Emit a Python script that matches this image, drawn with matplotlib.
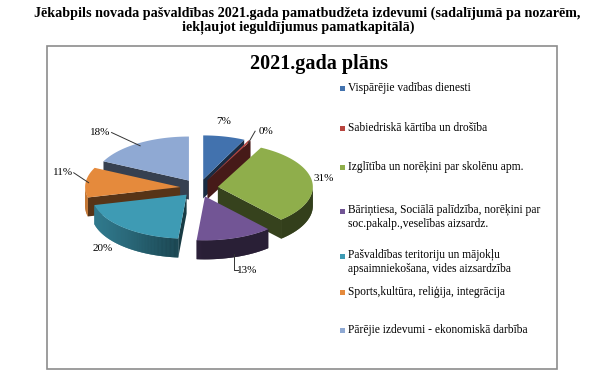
import numpy as np
import matplotlib
matplotlib.use('Agg')
import matplotlib.pyplot as plt
from matplotlib.patches import Polygon, Rectangle
from matplotlib.colors import to_rgb

# Data
title_lines = ["Jēkabpils novada pašvaldības 2021.gada pamatbudžeta izdevumi (sadalījumā pa nozarēm,",
               "iekļaujot ieguldījumus pamatkapitālā)"]
chart_title = "2021.gada plāns"
categories = ["Vispārējie vadības dienesti",
              "Sabiedriskā kārtība un drošība",
              "Izglītība un norēķini par skolēnu apm.",
              "Bāriņtiesa, Sociālā palīdzība, norēķini par\nsoc.pakalp.,veselības aizsardz.",
              "Pašvaldības teritoriju un mājokļu\napsaimniekošana, vides aizsardzība",
              "Sports,kultūra, reliģija, integrācija",
              "Pārējie izdevumi - ekonomiskā darbība"]
shares = [7.1, 0.4, 30.9, 13.0, 19.8, 11.0, 17.8]

# Style
colors = ["#4272ae", "#b8453f", "#8fae4b", "#725595", "#3e9bb4", "#e58a3c", "#8fa9d3"]
label_nudge = [(-4, 0), (10, 4), (-3, -1), (8, -1), (-12, -10), (-8, -8), (-30, 2)]
label_leader = [False, True, False, True, False, True, True]
legend_y = [88, 128, 167, 217, 262, 292, 330]
FONT = "Liberation Serif"

cx, cy = 199, 188          # pie centre (pixels)
rx, ry = 95, 44            # top ellipse radii
depth = 19                 # slice thickness
explode = 0.2


def shade(c, f):
    r, g, b = to_rgb(c)
    return (r * f, g * f, b * f)


def pt(a, ox, oy, r=1.0, dz=0):
    t = np.radians(a)
    return cx + ox + rx * r * np.sin(t), cy + oy - ry * r * np.cos(t) + dz


fig = plt.figure(figsize=(6, 3.71), dpi=100)
ax = fig.add_axes([0, 0, 1, 1])
ax.set_xlim(0, 600)
ax.set_ylim(371, 0)
ax.axis('off')

ax.text(307, 13, title_lines[0], ha='center', va='center', fontsize=10.2, fontweight='bold', family=FONT)
ax.text(298, 28, title_lines[1], ha='center', va='center', fontsize=10.2, fontweight='bold', family=FONT)
ax.add_patch(Rectangle((47, 46), 510, 323, fill=False, edgecolor='#8c8c8c', lw=1.2))
ax.text(319, 64, chart_title, ha='center', va='center', fontsize=14.5, fontweight='bold', family=FONT)

# Slices (clockwise from top), painted back to front
total = sum(shares)
edges = np.concatenate([[0], np.cumsum(shares)]) / total * 360
mids = (edges[:-1] + edges[1:]) / 2
order = np.argsort(-np.cos(np.radians(mids)))

for i in order:
    a1, a2, am = edges[i], edges[i + 1], mids[i]
    ox = explode * rx * np.sin(np.radians(am))
    oy = -explode * ry * np.cos(np.radians(am))
    col = colors[i]
    # radial walls facing the viewer (start wall normal at a1-90, end wall at a2+90)
    walls = []
    if -np.cos(np.radians(a1 - 90)) > 0:
        walls.append(a1)
    if -np.cos(np.radians(a2 + 90)) > 0:
        walls.append(a2)
    for a in walls:
        c0 = (cx + ox, cy + oy)
        e0 = pt(a, ox, oy)
        poly = [c0, e0, (e0[0], e0[1] + depth), (c0[0], c0[1] + depth)]
        ax.add_patch(Polygon(poly, closed=True, facecolor=shade(col, 0.38), edgecolor='none'))
    # outer wall: base polygon, then thin shaded strips on top
    lo, hi = max(a1, 90), min(a2, 270)
    if hi > lo:
        angs = np.linspace(lo, hi, int((hi - lo) * 2) + 2)
        top = [pt(b, ox, oy) for b in angs]
        bot = [(x, y + depth) for x, y in top][::-1]
        fm = 0.36 + 0.5 * max(0.0, -np.sin(np.radians((lo + hi) / 2)))
        ax.add_patch(Polygon(top + bot, closed=True, facecolor=shade(col, fm), edgecolor='none'))
        for b1, b2 in zip(angs[:-1], angs[1:]):
            p1, p2 = pt(b1, ox, oy), pt(b2, ox, oy)
            f = 0.36 + 0.5 * max(0.0, -np.sin(np.radians((b1 + b2) / 2)))
            ax.add_patch(Polygon([p1, p2, (p2[0], p2[1] + depth), (p1[0], p1[1] + depth)],
                                 closed=True, facecolor=shade(col, f), edgecolor='none'))
    # top face
    angs = np.linspace(a1, a2, max(3, int((a2 - a1) * 2)))
    poly = [(cx + ox, cy + oy)] + [pt(b, ox, oy) for b in angs]
    ax.add_patch(Polygon(poly, closed=True, facecolor=col, edgecolor='none'))

# Data labels
for i, am in enumerate(mids):
    t = np.radians(am)
    front = np.cos(t) < 0
    dz = depth if front else 0
    rim = (cx + (1 + explode) * rx * np.sin(t), cy - (1 + explode) * ry * np.cos(t) + dz)
    lx = rim[0] + 15 * np.sin(t) + label_nudge[i][0]
    ly = rim[1] - 15 * np.cos(t) + label_nudge[i][1]
    txt = "%d%%" % round(shares[i] / total * 100)
    ax.text(lx, ly, txt, ha='center', va='center', fontsize=8, family=FONT)
    if label_leader[i]:
        sx = rim[0] - 3 * np.sin(t)
        sy = rim[1] + 3 * np.cos(t)
        if abs(np.sin(t)) > 0.4:
            ex = lx - 11 * np.sign(np.sin(t))
            ax.plot([sx, ex], [sy, ly], color='#333333', lw=0.7)
        else:
            ax.plot([sx, sx, lx - 10], [sy, ly, ly], color='#333333', lw=0.7)

# Legend
for i, lab in enumerate(categories):
    nlines = lab.count("\n") + 1
    y = legend_y[i]
    ytop = y - (nlines - 1) * 5.8
    ax.add_patch(Rectangle((339.5, ytop - 2.5), 5, 5, facecolor=colors[i], edgecolor='none'))
    ax.text(348, y, lab, ha='left', va='center', fontsize=8.3, family=FONT, linespacing=1.2)

fig.savefig('out.png', dpi=100)
